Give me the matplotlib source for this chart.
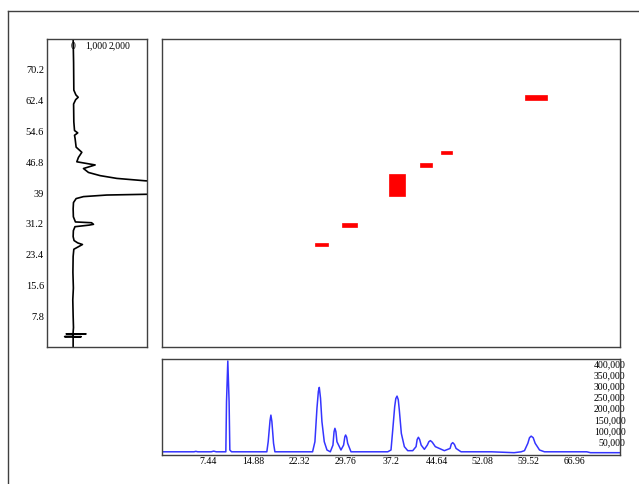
import matplotlib
matplotlib.use('Agg')
import matplotlib.pyplot as plt
from matplotlib.lines import Line2D

# left (vertical) trace: retention on y, intensity on x
left_time = [0.0, 2.6, 2.7, 2.72, 2.75, 3.35, 3.4, 3.42, 3.45, 3.9, 5.0, 8.0, 12.0, 15.0, 19.0,
             23.0, 24.8, 25.5, 26.0, 26.4, 27.0, 28.0, 29.5, 30.5, 30.9, 31.1, 31.5, 31.7,
             33.0, 35.0, 36.6, 37.6, 38.1, 38.5, 38.7, 39.3, 40.2, 41.2, 42.1, 42.7, 43.4,
             44.2, 45.2, 46.1, 46.9, 48.0, 49.3, 50.6, 52.7, 53.6,
             54.2, 54.8, 57.0, 61.5, 62.6, 63.2, 63.8, 65.0, 72.0, 78.0]
left_signal = [0, 0, 350, -370, 0, 0, 560, -300, 0, 0, 15, 0, -15, 10, -10,
               0, 30, 250, 405, 200, 40, 0, 10, 80, 700, 885, 800, 100,
               10, 0, 15, 130, 450, 1465, 3300, 6000, 8000, 6000, 3130, 1900, 1175,
               667, 450, 957, 160, 230, 378, 130, 87, 60,
               200, 60, 30, 20, 110, 220, 120, 30, 20, 0]
left_ticks = [7.8, 15.6, 23.4, 31.2, 39, 46.8, 54.6, 62.4, 70.2]
left_tick_labels = ['7.8', '15.6', '23.4', '31.2', '39', '46.8', '54.6', '62.4', '70.2']
left_int_ticks = [0, 1000, 2000]
left_int_labels = ['0', '1,000', '2,000']

# bottom (horizontal) trace, intensity in thousands
bottom_time = [0.0, 3.0, 5.2, 5.5, 5.8, 8.0, 8.4, 8.8, 10.0, 10.37, 10.48, 10.69, 10.9,
               11.02, 11.3, 13.0, 16.5, 17.03, 17.25, 17.55, 17.69, 17.85, 18.12, 18.34, 22.0,
               24.46, 24.84, 25.17, 25.4, 25.55, 25.75, 25.98, 26.36, 26.8, 27.34, 27.77,
               27.95, 28.09, 28.25, 28.42, 29.07, 29.5, 29.7, 29.83, 30.0, 30.16, 30.7,
               35.0, 36.67, 37.2, 37.48, 37.8, 37.98, 38.18, 38.38, 38.55, 38.88, 39.37,
               39.92, 40.73, 41.27, 41.45, 41.65, 41.85, 42.1, 42.62, 43.1, 43.35, 43.6,
               43.9, 44.4, 45.87, 46.8, 47.0, 47.23, 47.5, 47.77, 48.58, 53.5, 57.2, 58.34,
               58.88, 59.43, 59.7, 59.97, 60.3, 60.62, 61.33, 62.13, 69.0, 69.6, 74.4]
bottom_signal = [5, 5, 5, 7, 5, 5, 8, 5, 5, 5, 229, 411, 229,
                 13, 5, 5, 5, 5, 50, 145, 169, 140, 43, 5, 5,
                 5, 50, 199, 275, 293, 245, 140, 50, 13, 5, 35,
                 95, 110, 95, 50, 13, 35, 72, 80, 70, 43, 5,
                 5, 5, 13, 102, 207, 243, 254, 238, 192, 87, 28,
                 10, 10, 28, 60, 70, 60, 35, 16, 35, 50, 55,
                 48, 28, 10, 20, 40, 46, 38, 20, 5, 5, 1, 5,
                 10, 43, 68, 75, 68, 43, 13, 5, 5, 1, 1]
bottom_ticks = [7.44, 14.88, 22.32, 29.76, 37.2, 44.64, 52.08, 59.52, 66.96]
bottom_tick_labels = ['7.44', '14.88', '22.32', '29.76', '37.2', '44.64', '52.08', '59.52', '66.96']
bottom_int_ticks = [50, 100, 150, 200, 250, 300, 350, 400]
bottom_int_labels = ['50,000', '100,000', '150,000', '200,000', '250,000', '300,000',
                     '350,000', '400,000']

# red spots in the 2D map: x start/end, y start/end
spot_x0 = [24.85, 29.3, 36.8, 41.9, 45.4, 58.97]
spot_x1 = [26.9, 31.6, 39.5, 43.9, 47.1, 62.5]
spot_y0 = [25.55, 30.36, 38.2, 45.5, 48.8, 62.5]
spot_y1 = [26.38, 31.55, 43.9, 46.7, 49.6, 63.7]

X_RANGE = (0, 74.4)
Y_RANGE = (0, 78)
FRAME = '#404040'
FONT = 'Liberation Serif'
FS = 7


def styleFrame(ax):
    for spine in ax.spines.values():
        spine.set_color(FRAME)
        spine.set_linewidth(1)


def drawLeftPanel(fig):
    ax = fig.add_axes([46.7 / 639, 1 - 347.4 / 484, 100 / 639, 308.7 / 484])
    ax.plot(left_signal, left_time, color='black', lw=1.2)
    ax.set_ylim(*Y_RANGE)
    ax.set_xlim(-1150, 3200)
    ax.set_yticks(left_ticks)
    ax.set_yticklabels(left_tick_labels, fontsize=7.5, family=FONT)
    ax.tick_params(axis='y', length=0, pad=2)
    ax.xaxis.tick_top()
    ax.set_xticks(left_int_ticks)
    ax.set_xticklabels(left_int_labels, fontsize=FS, family=FONT)
    ax.tick_params(axis='x', length=0, pad=-8.5)
    styleFrame(ax)
    return ax


def drawMapPanel(fig):
    ax = fig.add_axes([162 / 639, 1 - 347.4 / 484, 458 / 639, 308.7 / 484])
    widths = [b - a for a, b in zip(spot_x0, spot_x1)]
    heights = [b - a for a, b in zip(spot_y0, spot_y1)]
    ax.bar(spot_x0, heights, width=widths, bottom=spot_y0, align='edge',
           color='red', edgecolor='red', lw=0.5)
    ax.set_xlim(*X_RANGE)
    ax.set_ylim(*Y_RANGE)
    ax.set_xticks([])
    ax.set_yticks([])
    styleFrame(ax)
    return ax


def drawBottomPanel(fig):
    ax = fig.add_axes([162 / 639, 1 - 454.7 / 484, 458 / 639, 95.7 / 484])
    ax.plot(bottom_time, bottom_signal, color='#3535ff', lw=1.1)
    ax.set_xlim(*X_RANGE)
    ax.set_ylim(-8, 420)
    ax.set_xticks(bottom_ticks)
    ax.set_xticklabels(bottom_tick_labels, fontsize=FS, family=FONT)
    ax.tick_params(axis='x', length=0, pad=2)
    ax.yaxis.tick_right()
    ax.set_yticks(bottom_int_ticks)
    ax.set_yticklabels(bottom_int_labels, fontsize=FS, family=FONT)
    ax.tick_params(axis='y', length=0, pad=4)
    for tick in ax.yaxis.get_major_ticks():
        tick.label2.set_horizontalalignment('right')
    styleFrame(ax)
    return ax


def main():
    fig = plt.figure(figsize=(6.39, 4.84), dpi=100)
    fig.patch.set_facecolor('white')

    drawLeftPanel(fig)
    drawMapPanel(fig)
    drawBottomPanel(fig)

    # outer frame (only left and top edges are visible)
    fig.add_artist(Line2D([8.3 / 639, 8.3 / 639], [0, 1 - 11 / 484],
                          transform=fig.transFigure, color=FRAME, lw=1))
    fig.add_artist(Line2D([8.3 / 639, 1], [1 - 11 / 484, 1 - 11 / 484],
                          transform=fig.transFigure, color=FRAME, lw=1))

    fig.savefig('out.png', dpi=100)


if __name__ == '__main__':
    main()
